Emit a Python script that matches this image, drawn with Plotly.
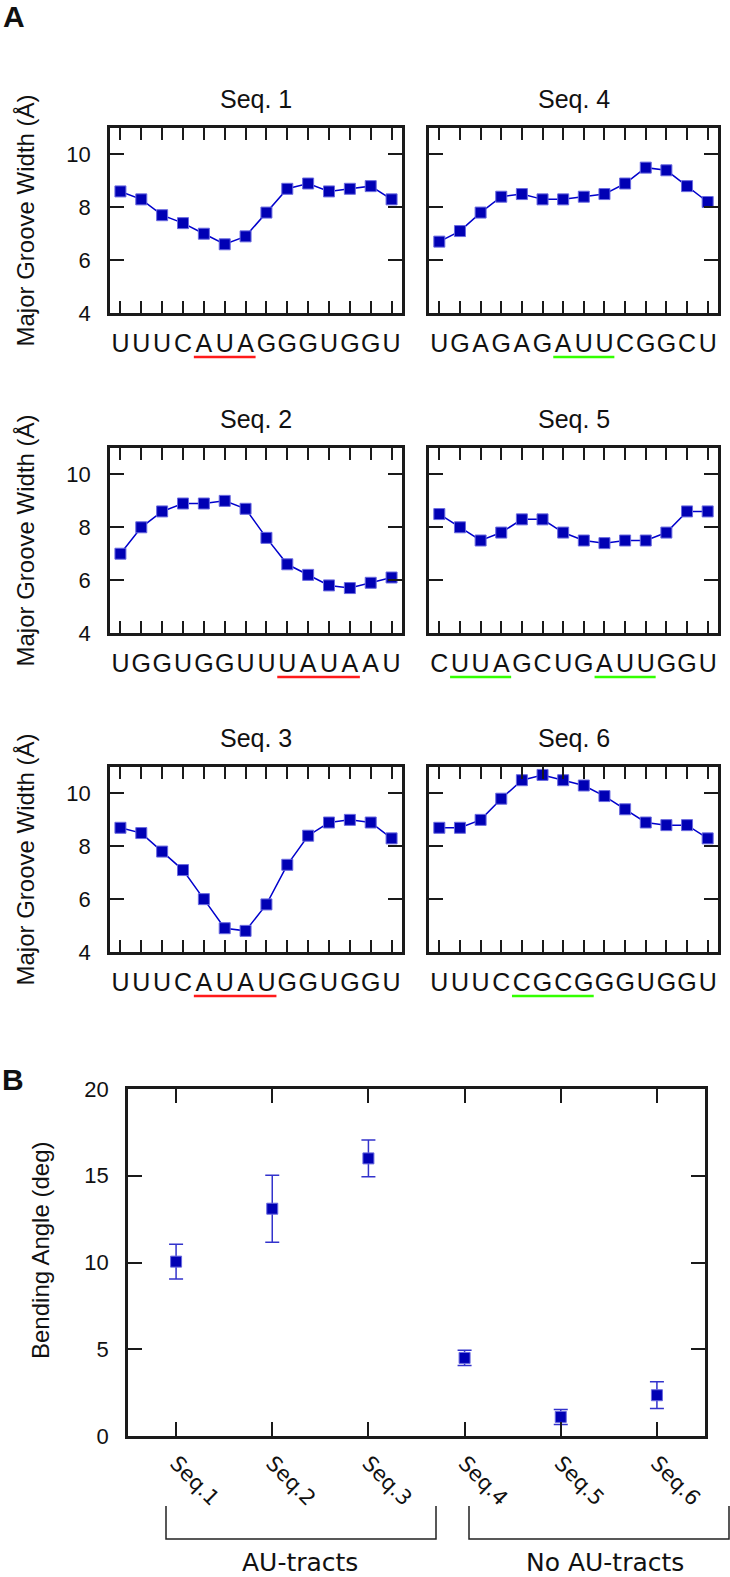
import plotly.graph_objects as go

# ---------------- data ----------------
positions = list(range(1, 15))
seq_names = ["Seq. 1", "Seq. 2", "Seq. 3", "Seq. 4", "Seq. 5", "Seq. 6"]
seq_strings = ["UUUCAUAGGGUGGU", "UGGUGGUUUAUAAU", "UUUCAUAUGGUGGU",
               "UGAGAGAUUCGGCU", "CUUAGCUGAUUGGU", "UUUCCGCGGGUGGU"]
seq1 = [8.6, 8.3, 7.7, 7.4, 7.0, 6.6, 6.9, 7.8, 8.7, 8.9, 8.6, 8.7, 8.8, 8.3]
seq2 = [7.0, 8.0, 8.6, 8.9, 8.9, 9.0, 8.7, 7.6, 6.6, 6.2, 5.8, 5.7, 5.9, 6.1]
seq3 = [8.7, 8.5, 7.8, 7.1, 6.0, 4.9, 4.8, 5.8, 7.3, 8.4, 8.9, 9.0, 8.9, 8.3]
seq4 = [6.7, 7.1, 7.8, 8.4, 8.5, 8.3, 8.3, 8.4, 8.5, 8.9, 9.5, 9.4, 8.8, 8.2]
seq5 = [8.5, 8.0, 7.5, 7.8, 8.3, 8.3, 7.8, 7.5, 7.4, 7.5, 7.5, 7.8, 8.6, 8.6]
seq6 = [8.7, 8.7, 9.0, 9.8, 10.5, 10.7, 10.5, 10.3, 9.9, 9.4, 8.9, 8.8, 8.8, 8.3]
groove = [seq1, seq2, seq3, seq4, seq5, seq6]
# underlined tracts: (first position, last position, kind)
tracts = [[(5, 7, "AU")], [(9, 12, "AU")], [(5, 8, "AU")],
          [(7, 9, "other")], [(2, 4, "other"), (9, 11, "other")], [(5, 8, "other")]]

bend_labels = ["Seq.1", "Seq.2", "Seq.3", "Seq.4", "Seq.5", "Seq.6"]
bend_angle = [10.05, 13.1, 16.0, 4.5, 1.1, 2.35]
bend_err = [1.0, 1.93, 1.06, 0.44, 0.43, 0.77]
group_labels = ["AU-tracts", "No AU-tracts"]

# ---------------- layout helpers ----------------
W, H = 730, 1577
OFF = 0  # body margin is removed by the post script
def fx(px):
    return (px - OFF) / W
def fy(py):
    return 1 - (py - OFF) / H

BLUE = "#0000b4"
LINE_BLUE = "#0000cc"
FRAME = "#1a1a1a"
TXT = "#111111"
SANS = "Liberation Sans, Arial, sans-serif"
DEJA = "DejaVu Sans, sans-serif"
tract_color = {"AU": "#ff1a1a", "other": "#33ff00"}

col_x = [(110, 402), (429, 718)]
row_top = [128, 448, 767]
panel_h = 185

fig = go.Figure()
layout = dict(
    width=W, height=H, margin=dict(l=0, r=0, t=0, b=0, autoexpand=False),
    paper_bgcolor="white", plot_bgcolor="white", showlegend=False,
    shapes=[], annotations=[],
)

for i in range(6):
    col = i // 3
    row = i % 3
    k = i + 1
    xa = "xaxis" if k == 1 else f"xaxis{k}"
    ya = "yaxis" if k == 1 else f"yaxis{k}"
    xr = "x" if k == 1 else f"x{k}"
    yr = "y" if k == 1 else f"y{k}"
    x0, x1 = col_x[col]
    top = row_top[row]
    bot = top + panel_h
    layout[xa] = dict(
        domain=[fx(x0), fx(x1)], anchor=yr, range=[0.5, 14.5], automargin=False,
        tickmode="array", tickvals=positions, ticktext=list(seq_strings[i]),
        tickangle=0,
        ticks="inside", ticklen=12, tickwidth=1.5, tickcolor=FRAME,
        showline=True, linewidth=2.5, linecolor=FRAME, mirror="ticks",
        showgrid=False, zeroline=False,
        tickfont=dict(family=SANS, size=25, color=TXT), ticklabelstandoff=6,
    )
    layout[ya] = dict(
        domain=[fy(bot), fy(top)], anchor=xr, range=[4, 11], automargin=False,
        tickmode="array", tickvals=[4, 6, 8, 10],
        ticks="inside", ticklen=14, tickwidth=1.5, tickcolor=FRAME,
        showline=True, linewidth=2.5, linecolor=FRAME, mirror="ticks",
        showgrid=False, zeroline=False, showticklabels=(col == 0),
        tickfont=dict(family=SANS, size=22, color=TXT), ticklabelstandoff=12,
    )
    fig.add_trace(go.Scatter(
        x=positions, y=groove[i], xaxis=xr, yaxis=yr, mode="lines+markers",
        line=dict(color=LINE_BLUE, width=1.5),
        marker=dict(symbol="square", size=11, color=BLUE,
                    line=dict(color="#6a6ae0", width=1)),
        cliponaxis=False,
    ))
    layout["annotations"].append(dict(
        text=seq_names[i], x=fx((x0 + x1) / 2), y=fy(top - 29), xref="paper", yref="paper",
        showarrow=False, xanchor="center", yanchor="middle",
        font=dict(family=SANS, size=25, color=TXT)))
    for (a, b, kind) in tracts[i]:
        layout["shapes"].append(dict(
            type="line", xref=xr, yref="paper", x0=a - 0.48, x1=b + 0.48,
            y0=fy(bot + 44), y1=fy(bot + 44),
            line=dict(color=tract_color[kind], width=2.5)))
    if col == 0:
        layout["annotations"].append(dict(
            text="Major Groove Width (Å)", x=fx(25), y=fy((top + bot) / 2),
            xref="paper", yref="paper", showarrow=False, textangle=-90,
            xanchor="center", yanchor="middle",
            font=dict(family=SANS, size=24, color=TXT)))

# ---------------- panel B ----------------
bx0, bx1, by0, by1 = 128, 705, 1089, 1436
layout["xaxis7"] = dict(
    domain=[fx(bx0), fx(bx1)], anchor="y7", range=[0.5, 6.5], automargin=False,
    tickmode="array", tickvals=list(range(1, 7)), ticktext=bend_labels,
    tickangle=45, ticks="inside", ticklen=14, tickwidth=1.5, tickcolor=FRAME,
    showline=True, linewidth=2.5, linecolor=FRAME, mirror="ticks",
    showgrid=False, zeroline=False,
    tickfont=dict(family=DEJA, size=21, color=TXT), ticklabelstandoff=4,
)
layout["yaxis7"] = dict(
    domain=[fy(by1), fy(by0)], anchor="x7", range=[0, 20], automargin=False,
    tickmode="array", tickvals=[0, 5, 10, 15, 20],
    ticks="inside", ticklen=14, tickwidth=1.5, tickcolor=FRAME,
    showline=True, linewidth=2.5, linecolor=FRAME, mirror="ticks",
    showgrid=False, zeroline=False,
    tickfont=dict(family=SANS, size=22, color=TXT), ticklabelstandoff=12,
)
fig.add_trace(go.Scatter(
    x=list(range(1, 7)), y=bend_angle, xaxis="x7", yaxis="y7", mode="markers",
    marker=dict(symbol="square", size=11, color=BLUE, line=dict(color="#6a6ae0", width=1)),
    error_y=dict(type="data", array=bend_err, visible=True, color="#3333cc",
                 thickness=1.5, width=7),
    cliponaxis=False,
))
layout["annotations"].append(dict(
    text="Bending Angle (deg)", x=fx(40), y=fy(1250), xref="paper", yref="paper",
    showarrow=False, textangle=-90, xanchor="center", yanchor="middle",
    font=dict(family=SANS, size=24, color=TXT)))

# group brackets
brackets = [(166, 436), (469, 729)]
label_cx = [300, 605]
for (a, b), lab, cx in zip(brackets, group_labels, label_cx):
    layout["shapes"].append(dict(
        type="path", xref="paper", yref="paper",
        path=f"M {fx(a)},{fy(1506)} L {fx(a)},{fy(1539)} L {fx(b)},{fy(1539)} L {fx(b)},{fy(1506)}",
        line=dict(color="#222222", width=1.5)))
    layout["annotations"].append(dict(
        text=lab, x=fx(cx), y=fy(1562), xref="paper", yref="paper", showarrow=False,
        xanchor="center", yanchor="middle", font=dict(family=DEJA, size=25, color=TXT)))

# panel letters
for lab, (cx, cy) in zip(["A", "B"], [(14, 16), (13, 1079)]):
    layout["annotations"].append(dict(
        text=f"<b>{lab}</b>", x=fx(cx), y=fy(cy), xref="paper", yref="paper",
        showarrow=False, xanchor="center", yanchor="middle",
        font=dict(family=SANS, size=30, color=TXT)))

fig.update_layout(**layout)
fig.write_html("out.html", config={"displayModeBar": False},
               post_script="document.body.style.margin='0px';")
